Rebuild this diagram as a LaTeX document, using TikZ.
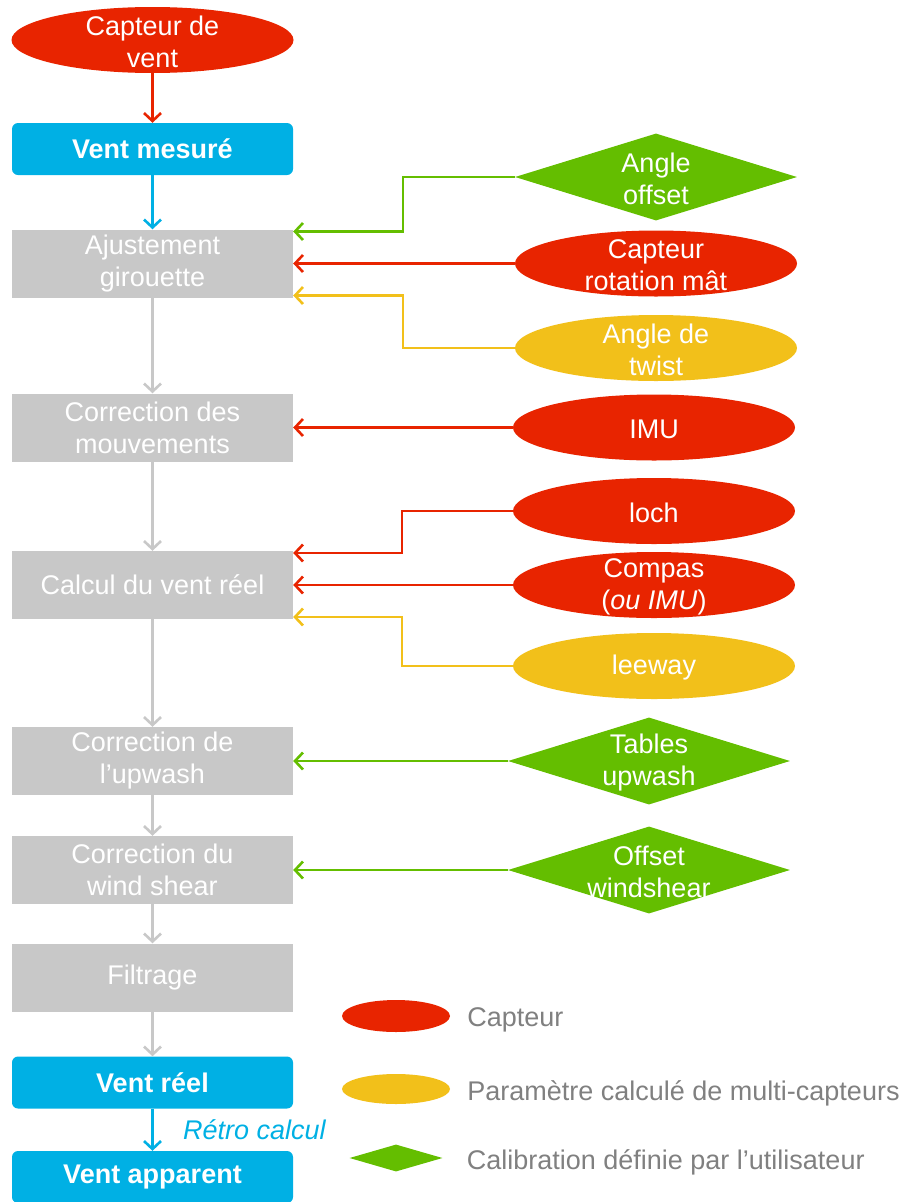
\documentclass[tikz,border=0pt]{standalone}
\usepackage{fontspec}
\setmainfont{Liberation Sans}
\usetikzlibrary{shapes.geometric,arrows.meta,positioning}
\definecolor{capteurred}{RGB}{232,36,0}
\definecolor{paramyellow}{RGB}{242,192,26}
\definecolor{calibgreen}{RGB}{100,190,0}
\definecolor{ventblue}{RGB}{0,176,228}
\definecolor{etapegray}{RGB}{200,200,200}
\definecolor{legendgray}{RGB}{128,128,128}

\begin{document}
\begin{tikzpicture}[x=1pt,y=-1pt,
    every node/.style={font=\fontsize{27}{32}\selectfont, align=center},
    ventbox/.style={rectangle, rounded corners=6pt, fill=ventblue, text=white, font=\fontsize{27}{32}\selectfont\bfseries, minimum width=281pt, minimum height=52pt, inner sep=0pt, execute at begin node=\vspace*{7pt}},
    etape/.style={rectangle, fill=etapegray, text=white, minimum width=281pt, minimum height=68pt, inner sep=0pt, execute at begin node=\vspace*{8pt}},
    capteur/.style={ellipse, fill=capteurred, minimum width=282pt, minimum height=66pt, inner sep=0pt},
    param/.style={ellipse, fill=paramyellow, minimum width=282pt, minimum height=66pt, inner sep=0pt},
    calib/.style={diamond, fill=calibgreen, minimum width=282pt, minimum height=87pt, inner sep=0pt},
    intxt/.style={text=white, inner sep=0pt, yshift=-2pt},
    fleche/.style={line width=2.6pt, -{Straight Barb[length=8pt,width=17pt]}},
    legtxt/.style={text=legendgray, anchor=west, inner sep=0pt, yshift=-4pt}]
    \useasboundingbox (0,0) rectangle (919,1202);
    % Chaine principale
    \node[capteur, label={[intxt]center:{Capteur de\\vent}}] (cvent) at (152.5,40) {};
    \node[ventbox] (mesure) at (152.5,149) {Vent mesuré};
    \node[etape] (ajust) at (152.5,263.5) {Ajustement\\girouette};
    \node[etape] (mouv) at (152.5,427.5) {Correction des\\mouvements};
    \node[etape] (calcul) at (152.5,585) {Calcul du vent réel};
    \node[etape] (upwash) at (152.5,761) {Correction de\\l’upwash};
    \node[etape] (shear) at (152.5,870) {Correction du\\wind shear};
    \node[etape] (filtre) at (152.5,977.5) {Filtrage};
    \node[ventbox] (reel) at (152.5,1082.5) {Vent réel};
    \node[ventbox] (app) at (152.5,1177) {Vent apparent};

    \draw[fleche, capteurred] (cvent.south) -- (mesure.north);
    \draw[fleche, ventblue] (mesure) -- (ajust);
    \draw[fleche, etapegray] (ajust) -- (mouv);
    \draw[fleche, etapegray] (mouv) -- (calcul);
    \draw[fleche, etapegray] (calcul) -- (upwash);
    \draw[fleche, etapegray] (upwash) -- (shear);
    \draw[fleche, etapegray] (shear) -- (filtre);
    \draw[fleche, etapegray] (filtre) -- (reel);
    \draw[fleche, ventblue] (reel) -- node[right=26pt, text=ventblue, font=\fontsize{27}{32}\selectfont\itshape] (retro) {Rétro calcul} (app);

    % Entrees
    \node[calib, label={[intxt]center:{Angle\\offset}}] (angoff) at (656,177) {};
    \node[capteur, label={[intxt]center:{Capteur\\rotation mât}}] (rotmat) at (656,263.5) {};
    \node[param, label={[intxt]center:{Angle de\\twist}}] (twist) at (656,348) {};
    \node[capteur, label={[intxt]center:{IMU}}] (imu) at (654,427.5) {};
    \node[capteur, label={[intxt]center:{loch}}] (loch) at (654,511) {};
    \node[capteur, label={[intxt]center:{Compas\\(\textit{ou IMU})}}] (compas) at (654,585) {};
    \node[param, label={[intxt]center:{leeway}}] (leeway) at (654,666) {};
    \node[calib, label={[intxt]center:{Tables\\upwash}}] (tables) at (649,761) {};
    \node[calib, label={[intxt]center:{Offset\\windshear}}] (offws) at (649,870) {};

    \draw[fleche, calibgreen] (angoff.west) -- ++(-112,0) |- ([yshift=32pt]ajust.east);
    \draw[fleche, capteurred] (rotmat.west) -- (ajust.east);
    \draw[fleche, paramyellow] (twist.west) -- ++(-112,0) |- ([yshift=-32pt]ajust.east);
    \draw[fleche, capteurred] (imu.west) -- (mouv.east);
    \draw[fleche, capteurred] (loch.west) -- ++(-111,0) |- ([yshift=32pt]calcul.east);
    \draw[fleche, capteurred] (compas.west) -- (calcul.east);
    \draw[fleche, paramyellow] (leeway.west) -- ++(-111,0) |- ([yshift=-32pt]calcul.east);
    \draw[fleche, calibgreen] (tables.west) -- (upwash.east);
    \draw[fleche, calibgreen] (offws.west) -- (shear.east);

    % Legende
    \node[capteur, minimum width=108pt, minimum height=32pt] (legcap) at (396,1016) {};
    \node[param, minimum width=108pt, minimum height=30pt] (legpar) at (396,1089) {};
    \node[calib, minimum width=93pt, minimum height=27pt] (legcal) at (396,1158) {};
    \node[legtxt, right=17pt of legcap] (legcaptxt) {Capteur};
    \node[legtxt, right=17pt of legpar] (legpartxt) {Paramètre calculé de multi-capteurs};
    \node[legtxt, right=24pt of legcal] (legcaltxt) {Calibration définie par l’utilisateur};
\end{tikzpicture}
\end{document}
